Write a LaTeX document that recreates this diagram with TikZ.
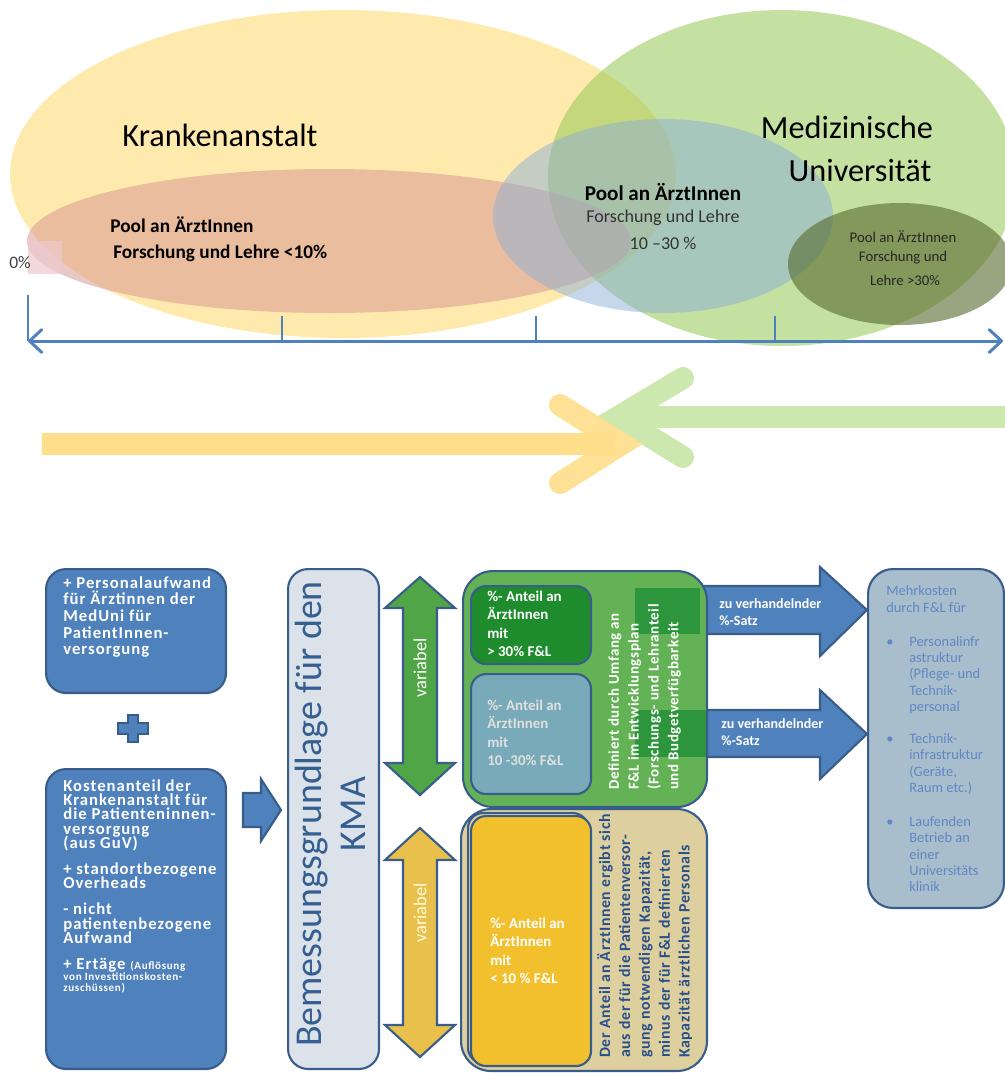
\documentclass[tikz,border=0pt]{standalone}
\usepackage{fontspec}
\setmainfont{Carlito}
\usetikzlibrary{arrows.meta}
\newcommand\tightlines{\lineskiplimit=-6pt\relax}

\definecolor{kayellow}{RGB}{255,214,92}
\definecolor{mugreen}{RGB}{150,200,85}
\definecolor{poolred}{RGB}{215,146,145}
\definecolor{poolblue}{RGB}{140,175,215}
\definecolor{poololive}{RGB}{85,105,45}
\definecolor{zeropink}{RGB}{236,200,205}
\definecolor{axisblue}{RGB}{79,129,189}
\definecolor{flowyellow}{RGB}{255,222,140}
\definecolor{flowgreen}{RGB}{205,232,175}
\definecolor{boxblue}{RGB}{79,129,189}
\definecolor{boxline}{RGB}{56,93,138}
\definecolor{basegray}{RGB}{220,226,234}
\definecolor{basetext}{RGB}{54,95,145}
\definecolor{varigreen}{RGB}{80,165,70}
\definecolor{variyellow}{RGB}{232,192,75}
\definecolor{fulgreen}{RGB}{100,178,86}
\definecolor{darkgreen}{RGB}{30,140,45}
\definecolor{stripgreen}{RGB}{45,150,60}
\definecolor{tealbox}{RGB}{120,170,186}
\definecolor{tanbox}{RGB}{222,207,158}
\definecolor{goldbox}{RGB}{242,192,45}
\definecolor{tantext}{RGB}{40,80,140}
\definecolor{mehrfill}{RGB}{168,190,205}
\definecolor{mehrtext}{RGB}{95,135,195}

\tikzset{
  bubble/.style={fill opacity=0.5},
  flowbox/.style={draw=boxline, line width=1.2pt, rounded corners=0.4cm, inner sep=0pt, anchor=north west},
  boxtext/.style={anchor=north west, align=left, inner sep=0pt, text=white, font=\bfseries\fontsize{8.5}{9.5}\selectfont},
  widetext/.style={boxtext, font={\bfseries\fontsize{9.5}{#1}\selectfont\addfontfeature{LetterSpace=6}\tightlines}},
  sidenote/.style={rotate=90, anchor=north west, align=left, inner sep=0pt, font={\bfseries\fontsize{#1}{11.3}\selectfont\addfontfeature{LetterSpace=4}}},
  blockarrow/.style={draw=boxline, line width=1.2pt, line join=miter},
  flowarrow/.style={line width=0.44cm},
  axisline/.style={axisblue, line width=1.7pt},
  pooltext/.style={font=\bfseries\fontsize{11}{13}\selectfont, inner sep=0pt},
}

\begin{document}
\begin{tikzpicture}[x=0.02cm, y=-0.02cm]
    %%%%% START %%%%%
    \useasboundingbox (0,0) rectangle (1005,1073);

    % ellipses
    \begin{scope}
    \clip (0,0) rectangle (1005,1073);
    \fill[kayellow, bubble] (343,174) ellipse (333 and 164);
    \fill[mugreen, fill opacity=0.55] (782,178) ellipse (234 and 168);
    \fill[poolred, bubble] (329,241) ellipse (302 and 72);
    \fill[poolblue, bubble] (663,216) ellipse (170 and 97);
    \fill[poololive, fill opacity=0.6] (900,264) ellipse (112 and 61);
    \end{scope}
    \fill[zeropink, opacity=0.7] (28,241) rectangle (62,274);

    \node[font=\fontsize{18.4}{22}\selectfont] (katext) at (220,135) {Krankenanstalt};
    \node[font=\fontsize{18.4}{22}\selectfont] (mutext) at (847,127) {Medizinische};
    \node[font=\fontsize{18.4}{22}\selectfont] (unitext) at (860,170) {Universität};

    \node[pooltext, anchor=west] (poolone) at (110,225) {Pool an ÄrztInnen};
    \node[pooltext, anchor=west] (poolonepct) at (113,253) {Forschung und Lehre <10\%};

    \node[font=\bfseries\fontsize{12}{14}\selectfont] (pooltwo) at (663,192) {Pool an ÄrztInnen};
    \node[font=\fontsize{10.3}{12}\selectfont, text=black!80] (pooltwosub) at (663,218) {Forschung und Lehre};
    \node[font=\fontsize{10.3}{12}\selectfont, text=black!80] (pooltwopct) at (663,243) {10 –30 \%};

    \node[font=\fontsize{8.4}{12}\selectfont, text=black!85] (poolthree) at (903,237) {Pool an ÄrztInnen};
    \node[font=\fontsize{8.4}{12}\selectfont, text=black!85] (poolthreesub) at (903,258) {Forschung und};
    \node[font=\fontsize{8.4}{12}\selectfont, text=black!85] (poolthreepct) at (905,280) {Lehre >30\%};

    \node[font=\fontsize{10}{12}\selectfont, text=black!75] (zero) at (20,263) {0\%};

    % axis
    \draw[axisline, {Straight Barb[length=7pt, width=13pt, round]}-{Straight Barb[length=7pt, width=13pt, round]}] (28,341) -- (1003,341);
    \draw[axisline, line width=1.2pt] (28,295) -- (28,341);
    \draw[axisline, line width=1.2pt] (282,316) -- (282,341);
    \draw[axisline, line width=1.2pt] (536,316) -- (536,341);
    \draw[axisline, line width=1.2pt] (775,316) -- (775,341);

    % opposing arrows
    \draw[flowarrow, flowgreen] (1005,417) -- (615,417);
    \draw[flowarrow, flowgreen, line cap=round] (683,378) -- (618,417) -- (683,457);
    \draw[flowarrow, flowyellow] (42,444) -- (615,444);
    \draw[flowarrow, flowyellow, line cap=round, opacity=0.92] (560,405) -- (622,444) -- (560,483);

    % left column
    \node[flowbox, fill=boxblue, minimum width=3.6cm, minimum height=2.48cm] (persbox) at (45,568) {};
    \node[widetext=9.5pt] (perstext) at (63,576) {+ Personalaufwand\\für Ärztinnen der\\MedUni für\\PatientInnen-\\versorgung};

    \draw[fill=boxblue, draw=boxline, line width=1pt] (128,715) -- (138,715) -- (138,723) -- (148,723) -- (148,734) -- (138,734)
        -- (138,742) -- (128,742) -- (128,734) -- (118,734) -- (118,723) -- (128,723) -- cycle;

    \node[flowbox, fill=boxblue, minimum width=3.6cm, minimum height=6cm] (kostbox) at (45,768) {};
    \node[widetext=8.2pt] (kosttext) at (63,779) {Kostenanteil der\\Krankenanstalt für\\die Patienteninnen-\\versorgung\\(aus GuV)\\[6.5pt]
        + standortbezogene\\Overheads\\[6.5pt]- nicht\\patientenbezogene\\Aufwand\\[6.5pt]
        + Ertäge {\fontsize{6.3}{6}\selectfont (Auflösung}\\[-2pt]{\fontsize{6.3}{6}\selectfont von Investitionskosten-}\\[-2pt]{\fontsize{6.3}{6}\selectfont zuschüssen)}};

    \draw[blockarrow, fill=boxblue] (243,793) -- (261,793) -- (261,779) -- (281,810) -- (261,841) -- (261,827) -- (243,827) -- cycle;

    % Bemessungsgrundlage
    \node[flowbox, fill=basegray, minimum width=1.82cm, minimum height=10cm] (basebox) at (287,568) {};
    \node[rotate=90, align=center, text=basetext, font=\fontsize{21.6}{25}\selectfont] (basetext) at (330,814) {Bemessungsgrundlage für den\\KMA};

    % variabel arrows
    \draw[blockarrow, fill=varigreen] (420,577) -- (455,608) -- (437,608) -- (437,763) -- (455,763) -- (420,795)
        -- (385,763) -- (403,763) -- (403,608) -- (385,608) -- cycle;
    \node[rotate=90, text=white, font=\fontsize{10.5}{12}\selectfont] (vargreen) at (420,668) {variabel};
    \draw[blockarrow, fill=variyellow] (420,828) -- (455,860) -- (437,860) -- (437,1025) -- (455,1025) -- (420,1057)
        -- (385,1025) -- (403,1025) -- (403,860) -- (385,860) -- cycle;
    \node[rotate=90, text=yellow!15, font=\fontsize{10.5}{12}\selectfont] (varyellow) at (420,913) {variabel};

    % arrows to Mehrkosten
    \draw[blockarrow, fill=boxblue] (690,586) -- (820,586) -- (820,567) -- (867,610) -- (820,656) -- (820,634) -- (690,634) -- cycle;
    \draw[blockarrow, fill=boxblue] (690,710) -- (820,710) -- (820,690) -- (867,734) -- (820,779) -- (820,757) -- (690,757) -- cycle;

    % green block
    \node[flowbox, fill=fulgreen, rounded corners=0.6cm, minimum width=4.88cm, minimum height=4.72cm] (greenbox) at (462,570) {};
    \fill[stripgreen] (635,588) rectangle (700,634);
    \fill[stripgreen] (635,710) rectangle (706,757);
    \node[flowbox, fill=darkgreen, rounded corners=0.3cm, minimum width=2.4cm, minimum height=1.56cm] (hibox) at (470,585) {};
    \node[boxtext, font=\bfseries\fontsize{8.5}{10.3}\selectfont] (hitext) at (487,591) {\%- Anteil an\\ÄrztInnen\\mit\\> 30\% F\&L};
    \node[flowbox, fill=tealbox, rounded corners=0.3cm, minimum width=2.4cm, minimum height=2.4cm] (midbox) at (470,673) {};
    \node[boxtext, text=white!88!black, font=\bfseries\fontsize{8.5}{10.3}\selectfont] (midtext) at (487,700) {\%- Anteil an\\ÄrztInnen\\mit\\10 -30\% F\&L};
    \node[sidenote=8.5, text=white] (greennote) at (608,790)
        {Definiert durch Umfang an\\F\&L im Entwicklungsplan\\(Forschungs- und Lehranteil\\und Budgetverfügbarkeit};

    % tan block
    \node[flowbox, fill=tanbox, rounded corners=0.6cm, minimum width=4.92cm, minimum height=5.24cm] (tanbox) at (460,808) {};
    \node[flowbox, rounded corners=0.3cm, minimum width=2.4cm, minimum height=5cm] (lowshadow) at (467,812) {};
    \node[flowbox, fill=goldbox, rounded corners=0.3cm, minimum width=2.4cm, minimum height=5cm] (lowbox) at (470,815) {};
    \node[boxtext, font=\bfseries\fontsize{8.5}{10.3}\selectfont] (lowtext) at (490,918) {\%- Anteil an\\ÄrztInnen\\mit\\< 10 \% F\&L};
    \node[sidenote=9, text=tantext] (tannote) at (597,1058)
        {Der Anteil an ÄrztInnen ergibt sich\\aus der für die Patientenversor-\\gung notwendigen Kapazität,\\minus der für F\&L definierten\\Kapazität ärztlichen Personals};

    \node[boxtext, font=\bfseries\fontsize{8}{9.6}\selectfont] (ratetop) at (719,598) {zu verhandelnder\\\%-Satz};
    \node[boxtext, font=\bfseries\fontsize{8}{9.6}\selectfont] (ratelow) at (721,718) {zu verhandelnder\\\%-Satz};

    % Mehrkosten
    \node[flowbox, fill=mehrfill, rounded corners=0.5cm, minimum width=2.72cm, minimum height=6.78cm] (mehrbox) at (867,568) {};
    \node[anchor=north west, inner sep=0pt, text=mehrtext, font=\fontsize{8.2}{9.3}\selectfont] (mehrtext) at (886,584)
        {\begin{tabular}{@{}l@{\hspace{9pt}}l@{}}
        \multicolumn{2}{@{}l}{Mehrkosten}\\
        \multicolumn{2}{@{}l}{durch F\&L für}\\[10pt]
        \textbullet & Personalinfr\\ & astruktur\\ & (Pflege- und\\ & Technik-\\ & personal\\[9pt]
        \textbullet & Technik-\\ & infrastruktur\\ & (Geräte,\\ & Raum etc.)\\[10pt]
        \textbullet & Laufenden\\ & Betrieb an\\ & einer\\ & Universitäts\\ & klinik
        \end{tabular}};
    %%%%% END %%%%%
\end{tikzpicture}
\end{document}
